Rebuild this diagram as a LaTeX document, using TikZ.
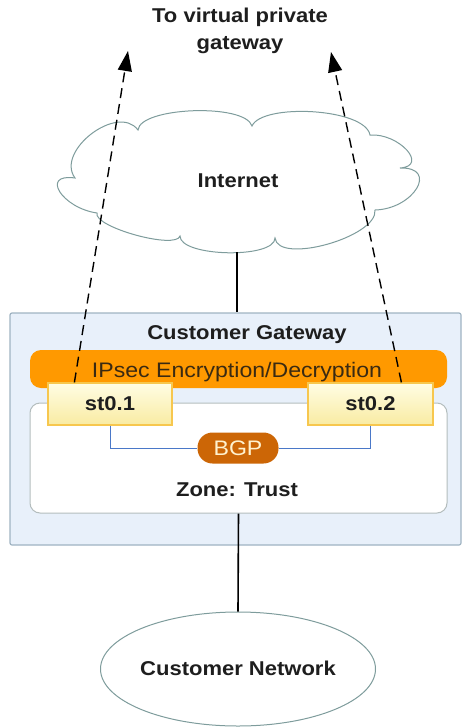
\documentclass[tikz,border=0pt]{standalone}
\usepackage{fontspec}
\setmainfont{Liberation Sans}[FakeStretch=1.1]
\usetikzlibrary{shapes.geometric,arrows.meta,calc}
\definecolor{gwfill}{HTML}{E8F0FA}
\definecolor{gwdraw}{HTML}{9FB3C2}
\definecolor{ipsec}{HTML}{FF9900}
\definecolor{ipsectext}{HTML}{3A2A12}
\definecolor{zonedraw}{HTML}{B4BDBD}
\definecolor{sttop}{HTML}{FFFDE4}
\definecolor{stbot}{HTML}{F9EBA2}
\definecolor{stdraw}{HTML}{F7C74E}
\definecolor{bgpfill}{HTML}{CC6606}
\definecolor{bgptext}{HTML}{FFF2CF}
\definecolor{bgpline}{HTML}{4A78C8}
\definecolor{clouddraw}{HTML}{7E9C9C}
\definecolor{txt}{HTML}{1E1E1E}
\tikzset{
  boldlabel/.style={font=\fontsize{20}{24}\selectfont\bfseries, text=txt, inner sep=0pt},
  gwbox/.style={draw=gwdraw, line width=1.2pt, fill=gwfill, rounded corners=2pt, inner sep=0pt},
  ipsecbar/.style={fill=ipsec, rounded corners=11pt, inner sep=0pt},
  zonebox/.style={draw=zonedraw, line width=1pt, fill=white, rounded corners=10pt, inner sep=0pt},
  stbox/.style={draw=stdraw, line width=1.2pt, top color=sttop, bottom color=stbot, inner sep=0pt,
    font=\fontsize{20}{24}\selectfont\bfseries, text=txt},
  bgppill/.style={fill=bgpfill, rounded corners=15pt, inner sep=0pt, text=bgptext,
    font=\fontsize{21}{24}\selectfont},
  cloudline/.style={draw=clouddraw, line width=1pt, fill=white},
  netshape/.style={ellipse, draw=clouddraw, line width=1pt, fill=white, inner sep=0pt},
  solidlink/.style={draw=black, line width=1.6pt},
  bgplink/.style={draw=bgpline, line width=1pt},
  tunnel/.style={draw=black, line width=1.4pt, dash pattern=on 10pt off 6pt, -{Triangle[length=20pt,width=14pt]}}
}
\begin{document}
\begin{tikzpicture}[x=1pt,y=-1pt]
\useasboundingbox (0,0) rectangle (463,728);
% title
\node[boldlabel, align=center, font=\fontsize{20}{27}\selectfont\bfseries] (title) at (240,31) {To virtual private\\gateway};
% cloud
\draw[cloudline] (138,130)
  .. controls (140,107) and (245,103) .. (252,126)
  .. controls (262,103) and (365,108) .. (370,135)
  .. controls (399,133) and (429,166) .. (400,168)
  .. controls (439,167) and (414,209) .. (375,210)
  .. controls (378,237) and (278,265) .. (275,238)
  .. controls (275,259) and (180,257) .. (180,236)
  .. controls (176,250) and (93,227) .. (97,213)
  .. controls (62,208) and (40,173) .. (75,178)
  .. controls (55,151) and (118,103) .. (138,130) -- cycle;
\coordinate (cloudbottom) at (237,252);
\node[boldlabel] (inet) at (238,181) {Internet};
% gateway
\node[gwbox, minimum width=451pt, minimum height=232pt] (gw) at (235.5,429) {};
\node[boldlabel] (gwlabel) at (247,335) {Customer Gateway};
\node[ipsecbar, minimum width=417pt, minimum height=38pt] (ipsec) at (238.5,369) {};
\node[inner sep=0pt, text=ipsectext, font=\fontsize{21}{24}\selectfont] (ipseclabel) at (237,372) {IPsec Encryption/Decryption};
\node[zonebox, minimum width=417pt, minimum height=110pt] (zone) at (238.5,458) {};
\node[boldlabel] (zonelabel) at (237,490) {Zone: Trust};
\node[bgppill, minimum width=81pt, minimum height=31pt] (bgp) at (238,448) {BGP};
\node[stbox, minimum width=124pt, minimum height=42pt] (st1) at (110,404) {st0.1};
\node[stbox, minimum width=125pt, minimum height=42pt] (st2) at (370.5,404) {st0.2};
\draw[bgplink] (st1.south) |- (bgp.west);
\draw[bgplink] (st2.south) |- (bgp.east);
% customer network
\node[netshape, minimum width=275pt, minimum height=114pt] (net) at (238,669) {};
\node[boldlabel] (netlabel) at (238,668) {Customer Network};
% links
\draw[solidlink] (cloudbottom) -- (cloudbottom |- gw.north);
\draw[solidlink] (zone.south) -- (net.north);
\coordinate (tip1) at (128,51);
\coordinate (tip2) at (331,52);
\draw[tunnel] ($(st1.north west)+(27,0)$) -- (tip1);
\draw[tunnel] ($(st2.north west)+(94,0)$) -- (tip2);
\end{tikzpicture}
\end{document}
